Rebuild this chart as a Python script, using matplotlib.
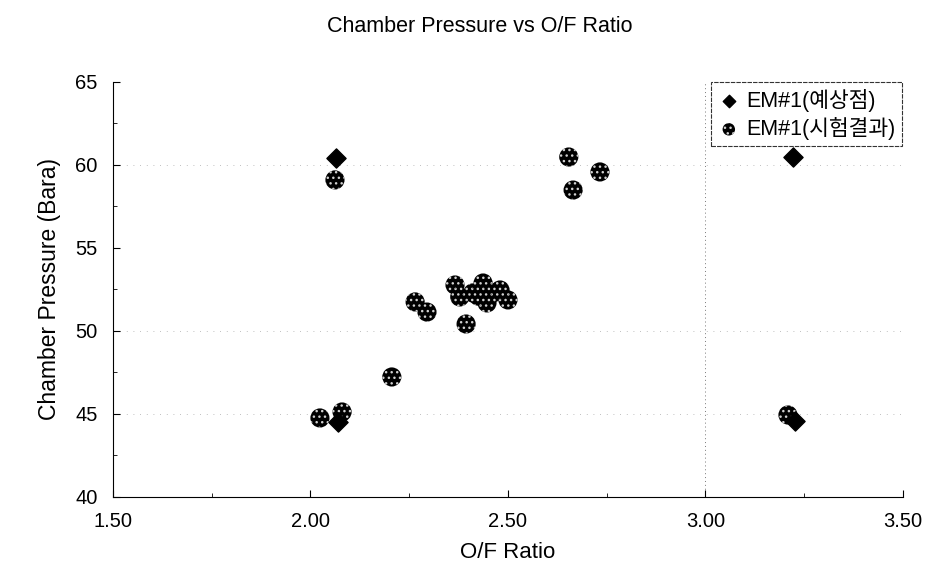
import numpy as np
import matplotlib
matplotlib.use('Agg')
from matplotlib import pyplot as plt

plt.rcParams['font.family'] = ['Liberation Sans', 'Noto Sans CJK KR', 'DejaVu Sans']

# predicted operating points (EM#1 예상점)
pred_of = [2.065, 3.222, 2.070, 3.227]
pred_pc = [60.45, 60.48, 44.52, 44.58]

# hot-fire test results (EM#1 시험결과)
test_of = [2.062, 2.024, 2.080, 2.206, 2.265, 2.295, 2.394,
           2.366, 2.378, 2.411, 2.437, 2.462, 2.500, 2.447, 2.480, 2.425,
           2.654, 2.665, 2.733, 3.209]
test_pc = [59.10, 44.76, 45.12, 47.23, 51.75, 51.14, 50.42,
           52.77, 52.05, 52.29, 52.89, 52.29, 51.87, 51.69, 52.47, 52.10,
           60.48, 58.49, 59.58, 44.94]

xticks = [1.5, 2.0, 2.5, 3.0, 3.5]
yticks = [40, 45, 50, 55, 60, 65]

fig = plt.figure(figsize=(9.37, 5.81), dpi=100)
ax = fig.add_axes([0.1206, 0.1446, 0.843, 0.7143])

ax.scatter(test_of, test_pc, s=190, marker='o', facecolor='black',
           edgecolor='#d0d0d0', linewidths=0, hatch='...',
           label='EM#1(시험결과)', zorder=3)
ax.scatter(pred_of, pred_pc, s=95, marker='D', color='black',
           label='EM#1(예상점)', zorder=4)

ax.set_xlim(1.5, 3.5)
ax.set_ylim(40, 65)
ax.set_xticks(xticks)
ax.set_xticklabels(['%.2f' % v for v in xticks])
ax.set_yticks(yticks)
ax.set_xticks(np.arange(1.5, 3.5, 0.25), minor=True)
ax.set_yticks(np.arange(40, 65, 2.5), minor=True)
ax.tick_params(direction='in', length=5, labelsize=14.5, pad=11)
ax.tick_params(which='minor', direction='in', length=3)

# faint scanned grid
for v in [45, 50, 60]:
    ax.axhline(v, color='#aaaaaa', lw=0.6, ls=(0, (1, 7)), zorder=1)
ax.axvline(3.0, color='#777777', lw=0.7, ls=(0, (1, 3)), zorder=1)

for s in ['top', 'right']:
    ax.spines[s].set_visible(False)
ax.spines['left'].set_linewidth(0.8)
ax.spines['bottom'].set_linewidth(0.8)

ax.set_xlabel('O/F Ratio', fontsize=16, labelpad=8)
ax.set_ylabel('Chamber Pressure (Bara)', fontsize=16.5, labelpad=10)
fig.text(0.512, 0.955, 'Chamber Pressure vs O/F Ratio', ha='center',
         va='center', fontsize=15.5)

h, l = ax.get_legend_handles_labels()
leg = ax.legend(h[::-1], l[::-1], loc='upper right',
                bbox_to_anchor=(1.004, 1.01), fontsize=15.5, frameon=True,
                fancybox=False, edgecolor='black', handletextpad=0.25,
                borderpad=0.3, labelspacing=0.25, handlelength=1.1,
                markerscale=0.65, borderaxespad=0.2)
leg.get_frame().set_linewidth(0.8)
leg.get_frame().set_linestyle((0, (4, 1)))

plt.savefig('out.png', dpi=100)
